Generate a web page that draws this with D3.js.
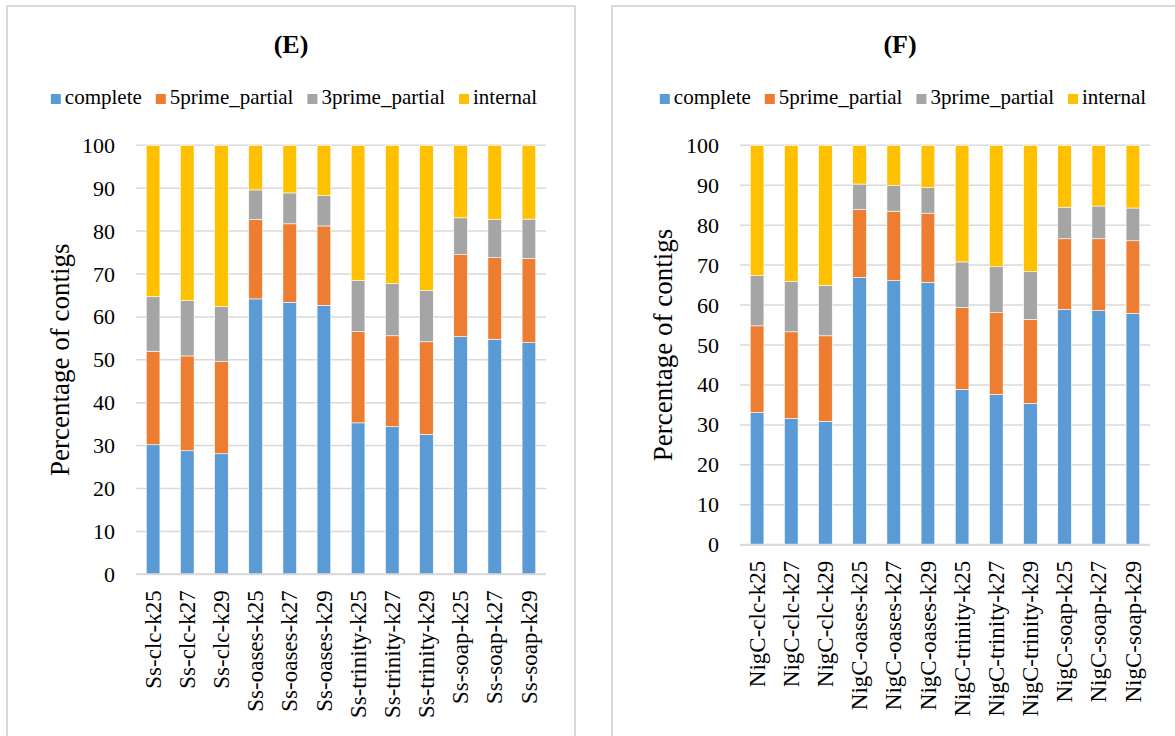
<!DOCTYPE html>
<html>
<head>
<meta charset="utf-8">
<script src="https://cdn.jsdelivr.net/npm/d3@7"></script>
<style>
  html, body { margin: 0; padding: 0; background: #fff; }
  svg { display: block; }
  svg text { font-family: "Liberation Serif", "Times New Roman", serif; fill: #000; }
</style>
</head>
<body>
<svg id="chart" width="1175" height="736"></svg>
<script>
// Contig classes (stack order bottom -> top)
const seriesNames = ["complete", "5prime_partial", "3prime_partial", "internal"];
const seriesColors = ["#5B9BD5", "#ED7D31", "#A5A5A5", "#FFC000"];
const yTicks = [0, 10, 20, 30, 40, 50, 60, 70, 80, 90, 100];

// Panel E: Ss assemblies
const categoriesE = ["Ss-clc-k25", "Ss-clc-k27", "Ss-clc-k29", "Ss-oases-k25", "Ss-oases-k27", "Ss-oases-k29",
  "Ss-trinity-k25", "Ss-trinity-k27", "Ss-trinity-k29", "Ss-soap-k25", "Ss-soap-k27", "Ss-soap-k29"];
const completeE = [30.2, 28.8, 28.1, 64.2, 63.4, 62.7, 35.3, 34.4, 32.6, 55.4, 54.8, 54.0];
const prime5E   = [21.8, 22.1, 21.5, 18.5, 18.3, 18.5, 21.3, 21.2, 21.6, 19.1, 19.0, 19.6];
const prime3E   = [12.7, 12.9, 12.8, 6.9, 7.2, 7.1, 11.9, 12.2, 12.0, 8.6, 8.9, 9.2];
const internalE = [35.3, 36.2, 37.6, 10.4, 11.1, 11.7, 31.5, 32.2, 33.8, 16.9, 17.3, 17.2];

// Panel F: NigC assemblies
const categoriesF = ["NigC-clc-k25", "NigC-clc-k27", "NigC-clc-k29", "NigC-oases-k25", "NigC-oases-k27", "NigC-oases-k29",
  "NigC-trinity-k25", "NigC-trinity-k27", "NigC-trinity-k29", "NigC-soap-k25", "NigC-soap-k27", "NigC-soap-k29"];
const completeF = [33.1, 31.6, 30.9, 66.9, 66.1, 65.7, 38.9, 37.6, 35.4, 58.9, 58.6, 57.9];
const prime5F   = [21.7, 21.7, 21.4, 17.0, 17.4, 17.3, 20.5, 20.5, 21.0, 17.7, 18.0, 18.2];
const prime3F   = [12.6, 12.6, 12.6, 6.4, 6.4, 6.4, 11.4, 11.5, 12.0, 7.9, 8.2, 8.2];
const internalF = [32.6, 34.1, 35.1, 9.7, 10.1, 10.6, 29.2, 30.4, 31.6, 15.5, 15.2, 15.7];

const FONT = "Liberation Serif";
const svg = d3.select("#chart");

function drawPanel(opts) {
  const { title, categories, values, frame, plot, titleY, legendY, yTitleX } = opts;
  const g = svg.append("g");

  // frame
  g.append("rect")
    .attr("x", frame.x).attr("y", frame.y)
    .attr("width", frame.w).attr("height", frame.h)
    .attr("fill", "#fff").attr("stroke", "#d9d9d9").attr("stroke-width", 2);

  const cx = frame.x + frame.w / 2;

  // title
  g.append("text")
    .attr("x", cx).attr("y", titleY)
    .attr("text-anchor", "middle")
    .attr("font-family", FONT)
    .attr("font-weight", "bold").attr("font-size", 26)
    .text(title);

  // legend, centred in the frame
  const legend = g.append("g");
  let lx = 0;
  seriesNames.forEach((name, i) => {
    const item = legend.append("g").attr("transform", `translate(${lx},0)`);
    item.append("rect").attr("x", 0).attr("y", legendY - 10).attr("width", 10).attr("height", 10)
      .attr("fill", seriesColors[i]);
    const t = item.append("text").attr("x", 14).attr("y", legendY)
      .attr("font-family", FONT).attr("font-size", 21).text(name);
    lx += 14 + t.node().getComputedTextLength() + 14;
  });
  const lw = lx - 14;
  legend.attr("transform", `translate(${cx - lw / 2 + 3},0)`);

  // scales
  const x = d3.scaleBand().domain(categories).range([plot.x0, plot.x1]).paddingInner(0.6).paddingOuter(0.3);
  const y = d3.scaleLinear().domain([0, 100]).range([plot.y1, plot.y0]);

  // gridlines
  g.append("g").selectAll("line").data(yTicks).join("line")
    .attr("x1", plot.x0).attr("x2", plot.x1)
    .attr("y1", d => y(d)).attr("y2", d => y(d))
    .attr("stroke", "#d9d9d9").attr("stroke-width", 1.5);

  // y axis labels
  const yAxis = d3.axisLeft(y).tickValues(yTicks).tickSize(0).tickPadding(21);
  const ya = g.append("g").attr("transform", `translate(${plot.x0},0)`).call(yAxis)
    .attr("font-family", FONT);
  ya.select(".domain").remove();
  ya.selectAll("text").attr("font-size", 22).attr("font-family", FONT).attr("fill", "#000");

  // y axis title
  g.append("text")
    .attr("transform", `translate(${yTitleX},${(plot.y0 + plot.y1) / 2}) rotate(-90)`)
    .attr("text-anchor", "middle")
    .attr("font-family", FONT)
    .attr("font-size", 27)
    .text("Percentage of contigs");

  // stacked bars
  const rows = categories.map((c, i) => ({
    cat: c,
    complete: values[0][i], "5prime_partial": values[1][i],
    "3prime_partial": values[2][i], internal: values[3][i]
  }));
  const stacked = d3.stack().keys(seriesNames)(rows);
  g.append("g").selectAll("g").data(stacked).join("g")
    .attr("fill", (d, i) => seriesColors[i])
    .selectAll("rect").data(d => d).join("rect")
    .attr("x", d => x(d.data.cat))
    .attr("width", x.bandwidth())
    .attr("y", d => y(d[1]))
    .attr("height", d => y(d[0]) - y(d[1]))
    .attr("stroke", "#fff").attr("stroke-width", 0.6);

  // baseline
  g.append("line").attr("x1", plot.x0).attr("x2", plot.x1)
    .attr("y1", y(0)).attr("y2", y(0))
    .attr("stroke", "#d9d9d9").attr("stroke-width", 2);

  // category labels (rotated)
  const xAxis = d3.axisBottom(x).tickSize(0).tickPadding(0);
  const xa = g.append("g").attr("transform", `translate(0,${plot.y1})`).call(xAxis)
    .attr("font-family", FONT);
  xa.select(".domain").remove();
  xa.selectAll("text")
    .attr("font-size", 23).attr("font-family", FONT).attr("fill", "#000")
    .attr("text-anchor", "end")
    .attr("transform", "rotate(-90)")
    .attr("x", -16).attr("y", 0).attr("dy", "0.33em");
}

drawPanel({
  title: "(E)", categories: categoriesE,
  values: [completeE, prime5E, prime3E, internalE],
  frame: { x: 7, y: 6, w: 568, h: 760 },
  plot: { x0: 136, x1: 546, y0: 145.3, y1: 574.3 },
  titleY: 53, legendY: 104, yTitleX: 69
});

drawPanel({
  title: "(F)", categories: categoriesF,
  values: [completeF, prime5F, prime3F, internalF],
  frame: { x: 612, y: 6, w: 576, h: 760 },
  plot: { x0: 740, x1: 1150, y0: 145.3, y1: 544.7 },
  titleY: 53, legendY: 104, yTitleX: 672
});
</script>
</body>
</html>
